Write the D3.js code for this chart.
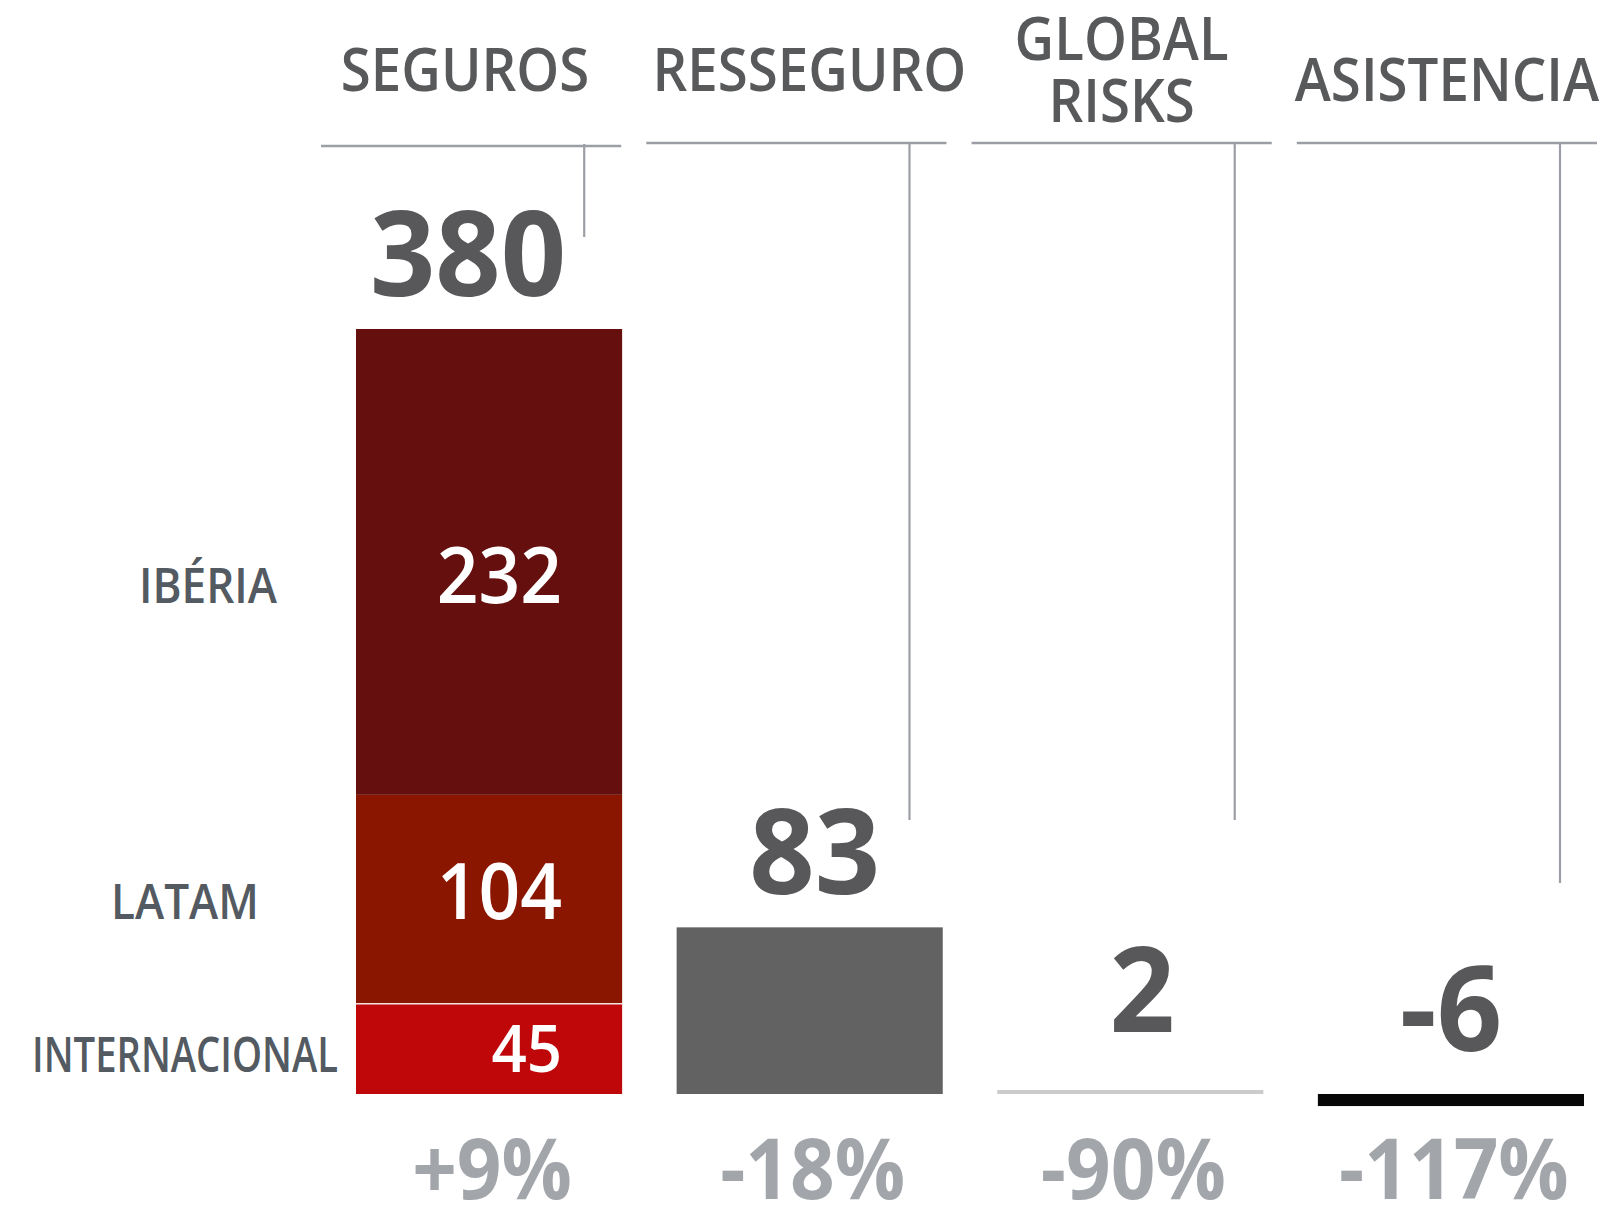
<!DOCTYPE html>
<html>
<head>
  <meta charset="utf-8">
  <script src="https://d3js.org/d3.v7.min.js"></script>
  <style>
    body { margin: 0; background: #fff; }
    svg { display: block; }
    text { font-family: 'Open Sans', 'Noto Sans', sans-serif; }
  </style>
</head>
<body>
<script>
  // data
  var units = ["SEGUROS", "RESSEGURO", "GLOBAL RISKS", "ASISTENCIA"];
  var unitTitles = [["SEGUROS"], ["RESSEGURO"], ["GLOBAL", "RISKS"], ["ASISTENCIA"]];
  var unitTotals = [380, 83, 2, -6];
  var unitChanges = ["+9%", "-18%", "-90%", "-117%"];
  var unitColors = [null, "#626262", "#cbcbcb", "#070707"];

  // seguros breakdown, bottom to top
  var regions = ["INTERNACIONAL", "LATAM", "IBÉRIA"];
  var regionValues = [45, 104, 232];
  var regionColors = ["#bf070a", "#8a1600", "#65100e"];

  var width = 1606, height = 1206;

  var svg = d3.select("body").append("svg")
      .attr("width", width)
      .attr("height", height);

  // stack the seguros segments
  var stacked = [], acc = 0;
  regions.forEach(function (r, i) {
    stacked.push({ name: r, value: regionValues[i], y0: acc, y1: acc + regionValues[i], color: regionColors[i] });
    acc += regionValues[i];
  });

  var x = d3.scaleBand().domain(units).range([356, 1584]).paddingInner(0.17);
  var y = d3.scaleLinear().domain([0, acc]).range([1094, 329]);

  // header columns sit on a slightly wider grid than the bars
  var hx = d3.scaleBand().domain(units).range([321, 1597]).paddingInner(0.077);
  var leaderBottom = { "SEGUROS": 237, "RESSEGURO": 820, "GLOBAL RISKS": 820, "ASISTENCIA": 883 };
  var titleDx = { "SEGUROS": -6, "RESSEGURO": 13 };
  var titleDy = { "ASISTENCIA": 10 };
  var totalDx = { "SEGUROS": -21, "RESSEGURO": 5, "GLOBAL RISKS": 12 };
  var totalDy = { "GLOBAL RISKS": -25, "ASISTENCIA": -10 };
  var regionDy = { "IBÉRIA": 13, "LATAM": -8 };
  var regionDx = { "IBÉRIA": 23 };

  function squeeze(sel, sx) {
    sel.attr("transform", function () {
      var t = d3.select(this);
      var px = +t.attr("data-x"), py = +t.attr("data-y");
      return "translate(" + px + "," + py + ") scale(" + sx + ",1)";
    });
  }

  function segSize(d) { return Math.min(77, (y(d.y0) - y(d.y1)) * 0.72); }
  function segBase(d) { return (y(d.y0) + y(d.y1)) / 2 + segSize(d) * 0.36 + (regionDy[d.name] || 0); }

  /* header rules and leaders */
  var head = svg.append("g").selectAll("g")
    .data(units)
    .enter().append("g");

  head.append("line")
      .attr("x1", function (d) { return hx(d); })
      .attr("x2", function (d) { return hx(d) + hx.bandwidth(); })
      .attr("y1", function (d, i) { return i === 0 ? 146 : 143; })
      .attr("y2", function (d, i) { return i === 0 ? 146 : 143; })
      .attr("stroke", "#9b9fa5")
      .attr("stroke-width", 2.5);

  head.append("line")
      .attr("x1", function (d) { return hx(d) + hx.bandwidth() - 37; })
      .attr("x2", function (d) { return hx(d) + hx.bandwidth() - 37; })
      .attr("y1", 144)
      .attr("y2", function (d) { return leaderBottom[d]; })
      .attr("stroke", "#9b9fa5")
      .attr("stroke-width", 2.2);

  head.each(function (d, i) {
    var lines = unitTitles[i];
    var cx = hx(d) + hx.bandwidth() / 2 + (titleDx[d] || 0);
    var base = lines.length === 1 ? 91 + (titleDy[d] || 0) : 60;
    d3.select(this).selectAll("text.title")
      .data(lines)
      .enter().append("text")
        .attr("class", "title")
        .attr("data-x", cx)
        .attr("data-y", function (l, j) { return base + j * 62; })
        .attr("text-anchor", "middle")
        .attr("font-size", 60)
        .attr("font-weight", 600)
        .attr("fill", "#58595b")
        .text(function (l) { return l; })
        .call(squeeze, 0.91);
  });

  /* bars */
  var bars = svg.append("g");

  bars.selectAll("rect.seg")
    .data(stacked)
    .enter().append("rect")
      .attr("class", "seg")
      .attr("x", x("SEGUROS"))
      .attr("width", x.bandwidth())
      .attr("y", function (d) { return y(d.y1); })
      .attr("height", function (d) { return y(d.y0) - y(d.y1); })
      .attr("fill", function (d) { return d.color; });

  // thin light seam above internacional
  bars.append("line")
      .attr("x1", x("SEGUROS"))
      .attr("x2", x("SEGUROS") + x.bandwidth())
      .attr("y1", y(stacked[0].y1))
      .attr("y2", y(stacked[0].y1))
      .attr("stroke", "#f3e3e3")
      .attr("stroke-width", 1.5);

  var simple = units.map(function (u, i) { return { unit: u, value: unitTotals[i], color: unitColors[i] }; }).slice(1);

  bars.selectAll("rect.unit")
    .data(simple)
    .enter().append("rect")
      .attr("class", "unit")
      .attr("x", function (d) { return x(d.unit); })
      .attr("width", x.bandwidth())
      .attr("y", function (d) { return y(Math.max(0, d.value)); })
      .attr("height", function (d) { return Math.abs(y(d.value) - y(0)); })
      .attr("fill", function (d) { return d.color; });

  /* segment values and region names */
  bars.selectAll("text.segval")
    .data(stacked)
    .enter().append("text")
      .attr("class", "segval")
      .attr("data-x", x("SEGUROS") + x.bandwidth() - 60)
      .attr("data-y", segBase)
      .attr("text-anchor", "end")
      .attr("font-size", segSize)
      .attr("font-weight", 600)
      .attr("fill", "#fff")
      .text(function (d) { return d.value; })
      .call(squeeze, 0.95);

  var regionLabels = svg.append("g").selectAll("text")
    .data(stacked)
    .enter().append("text")
      .attr("x", 185)
      .attr("dx", function (d) { return regionDx[d.name] || 0; })
      .attr("y", segBase)
      .attr("text-anchor", "middle")
      .attr("font-size", 49)
      .attr("font-weight", 600)
      .attr("fill", "#545a61")
      .text(function (d) { return d.name; });

  // squeeze labels so they fit left of the bar
  var room = x("SEGUROS") - 50;
  regionLabels.each(function () {
    var natural = this.getComputedTextLength();
    var target = Math.min(natural * 0.9, room);
    d3.select(this).attr("textLength", target).attr("lengthAdjust", "spacingAndGlyphs");
  });

  /* totals */
  svg.append("g").selectAll("text")
    .data(units)
    .enter().append("text")
      .attr("data-x", function (d) { return x(d) + x.bandwidth() / 2 + (totalDx[d] || 0); })
      .attr("data-y", function (d, i) { return y(Math.max(0, i === 0 ? acc : unitTotals[i])) - 33 + (totalDy[d] || 0); })
      .attr("text-anchor", "middle")
      .attr("font-size", 118)
      .attr("font-weight", 700)
      .attr("fill", "#58585a")
      .text(function (d, i) { return unitTotals[i]; })
      .call(squeeze, 0.97);

  /* year-on-year change */
  svg.append("g").selectAll("text")
    .data(units)
    .enter().append("text")
      .attr("data-x", function (d) { return x(d) + x.bandwidth() / 2 + 3; })
      .attr("data-y", 1199)
      .attr("text-anchor", "middle")
      .attr("font-family", "'Liberation Sans', Arial, sans-serif")
      .attr("font-size", 85)
      .attr("font-weight", 700)
      .attr("fill", "#a2a6ab")
      .text(function (d, i) { return unitChanges[i]; })
      .call(squeeze, 0.92);
</script>
</body>
</html>
